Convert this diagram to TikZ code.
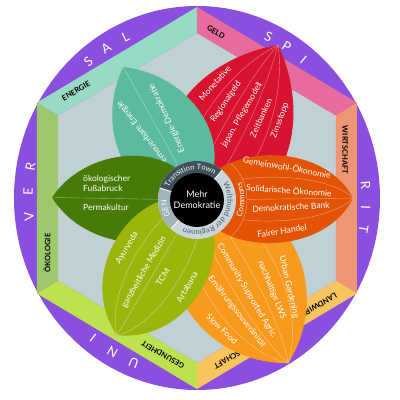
\documentclass[tikz,border=0pt]{standalone}
\usepackage{fontspec}
\setmainfont{Lato}
\usetikzlibrary{decorations.text}
\definecolor{ringpurple}{HTML}{8A4FDF}
\definecolor{hexgrey}{HTML}{C1D0D3}
\definecolor{bandenergie}{HTML}{97DBC5}
\definecolor{bandgeld}{HTML}{E76B9D}
\definecolor{bandwirtschaft}{HTML}{EE9574}
\definecolor{bandland}{HTML}{F7C45E}
\definecolor{bandgesund}{HTML}{BEE24F}
\definecolor{bandoeko}{HTML}{9DC96C}
\definecolor{leafteal}{HTML}{5BBA9F}
\definecolor{leafred}{HTML}{D7132F}
\definecolor{leafgreen}{HTML}{487A08}
\definecolor{leaflime}{HTML}{9BB50D}
\definecolor{leaforange}{HTML}{F89A1E}
\definecolor{leafrust}{HTML}{E35306}
\definecolor{ringdark}{HTML}{3F525A}
\definecolor{ringgen}{HTML}{A1B4BA}
\definecolor{ringlight}{HTML}{C8D6D9}
\definecolor{ringtext}{HTML}{4A5A60}
\tikzset{%
  leaf/.style n args = {5}{insert path={(0,0) .. controls (#2,#3) and (#4,#5)
        .. (#1,0) .. controls (#4,-#5) and (#2,-#3) .. cycle}},
  vein/.style = {draw=white, draw opacity=0.45, line width=0.4pt},
  leaftext/.style = {text=white, inner sep=0pt,
        font=\fontsize{8.5}{10}\selectfont},
  bandlabel/.style = {inner sep=0pt, font=\bfseries\fontsize{7.5}{8}\selectfont},
  ringletter/.style = {text=white, inner sep=0pt,
        font=\fontsize{13}{13}\selectfont}
}

\begin{document}
\begin{tikzpicture}[x=1pt,y=1pt]
    \useasboundingbox (-197,-202) rectangle (203,198);
    % outer ring and hexagon
    \fill[ringpurple] (0,0) ellipse [x radius=183, y radius=192];
    \coordinate (o1) at (0,191);
    \coordinate (o2) at (160,95.5);
    \coordinate (o3) at (160,-95.5);
    \coordinate (o4) at (0,-191);
    \coordinate (o5) at (-160,-95.5);
    \coordinate (o6) at (-160,95.5);
    \coordinate (i1) at (0,165);
    \coordinate (i2) at (139,82.5);
    \coordinate (i3) at (139,-82.5);
    \coordinate (i4) at (0,-165);
    \coordinate (i5) at (-139,-82.5);
    \coordinate (i6) at (-139,82.5);
    \fill[hexgrey] (i1) -- (i2) -- (i3) -- (i4) -- (i5) -- (i6) -- cycle;
    \fill[bandenergie] (o6) -- (o1) -- (i1) -- (i6) -- cycle;
    \fill[bandgeld] (o1) -- (o2) -- (i2) -- (i1) -- cycle;
    \fill[bandwirtschaft] (o2) -- (o3) -- (i3) -- (i2) -- cycle;
    \fill[bandland] (o3) -- (o4) -- (i4) -- (i3) -- cycle;
    \fill[bandgesund] (o4) -- (o5) -- (i5) -- (i4) -- cycle;
    \fill[bandoeko] (o5) -- (o6) -- (i6) -- (i5) -- cycle;
    \node[bandlabel, rotate=30] (energie) at (-121,107) {ENERGIE};
    \node[bandlabel, rotate=-30] (geld) at (19,166) {GELD};
    \node[bandlabel, rotate=-90] (wirtschaft) at (148,48) {WIRTSCHAFT};
    \node[bandlabel, rotate=-150] (landwirt) at (122,-107) {LANDWIRT};
    \node[bandlabel, rotate=-150] (schaft) at (30,-162) {SCHAFT};
    \node[bandlabel, rotate=150] (gesundheit) at (-34,-157) {GESUNDHEIT};
    \node[bandlabel, rotate=90] (oekologie) at (-150,-55) {ÖKOLOGIE};
    \foreach \a/\l [count=\i] in {130/S,122.5/A,115/L,65/S,58/P,51/I,4/R,-3/I,
            -10/T,186/V,178/E,170/R,248/U,240/N,232/I}
        \node[ringletter, rotate=\a-90] (letter\i) at ({169*cos(\a)},{178*sin(\a)}) {\l};

    % leaves
    \begin{scope}[shift={(0,-2)}, rotate=62.4]
        \fill[leafred, leaf={175}{10}{80}{115}{78}];
        \foreach \k in {-0.55,-0.18,0.18,0.55}
            \draw[vein] (175,0) .. controls (115,\k*78) and (10,\k*80) .. (0,0);
    \end{scope}
    \node[leaftext, rotate=48] (monetative) at (18,115) {Monetative};
    \node[leaftext, rotate=56] (regionalgeld) at (29,96) {Regionalgeld};
    \node[leaftext, rotate=60] (pflege) at (45,83) {japan. Pflegemodell};
    \node[leaftext, rotate=65] (zeitbanken) at (64,80) {Zeitbanken};
    \node[leaftext, rotate=70] (zinsstopp) at (83,78) {Zinsstopp};

    \begin{scope}[shift={(0,-2)}, rotate=119]
        \fill[leafteal, leaf={152}{20}{62}{110}{60}];
        \draw[vein] (152,0) -- (0,0);
    \end{scope}
    \node[leaftext, rotate=128] (erneuerbar) at (-55,66) {erneuerbare Energie};
    \node[leaftext, rotate=115] (edemokratie) at (-30,80) {Energie-Demokratie};

    \begin{scope}[shift={(0,-2)}, rotate=179]
        \fill[leafgreen, leaf={145}{15}{60}{110}{55}];
        \draw[vein] (145,0) -- (0,0);
    \end{scope}
    \node[leaftext, align=left, anchor=west] (fussabdruck) at (-114,15)
        {ökologischer\\Fußabruck};
    \node[leaftext, anchor=west] (permakultur) at (-114,-9) {Permakultur};

    \begin{scope}[shift={(0,-2)}, rotate=-60.8]
        \fill[leaforange, leaf={187}{20}{80}{140}{85}];
        \foreach \k in {-0.6,-0.2,0.2,0.6}
            \draw[vein] (187,0) .. controls (140,\k*85) and (20,\k*80) .. (0,0);
    \end{scope}
    \node[leaftext, rotate=-77] (urban) at (92,-89) {Urban Gardening};
    \node[leaftext, rotate=-68] (lws) at (75,-92) {nachhaltige LWS};
    \node[leaftext, rotate=-59] (csa) at (50,-93) {Community Supported Agric.};
    \node[leaftext, rotate=-52] (souveraen) at (40,-114) {Ernährungssouveränität};
    \node[leaftext, rotate=-43] (slowfood) at (25,-131) {Slow Food};

    \begin{scope}[shift={(0,-2)}, rotate=-120.6]
        \fill[leaflime, leaf={157}{15}{62}{125}{70}];
        \foreach \k in {-0.5,0,0.5}
            \draw[vein] (157,0) .. controls (125,\k*70) and (15,\k*62) .. (0,0);
    \end{scope}
    \node[leaftext, rotate=59] (ayurveda) at (-70,-50) {Ayurveda};
    \node[leaftext, rotate=60] (medizin) at (-53,-74) {ganzheitliche Medizin};
    \node[leaftext, rotate=58] (tcm) at (-34,-79) {TCM};
    \node[leaftext, rotate=60] (artabana) at (-10,-89) {Artabana};

    \begin{scope}[shift={(0,-2)}, rotate=0.7]
        \fill[leafrust, leaf={156}{10}{55}{125}{62}];
        \foreach \k in {-0.5,0,0.5}
            \draw[vein] (156,0) .. controls (125,\k*62) and (10,\k*55) .. (0,0);
        \begin{scope}
            \clip[leaf={156}{10}{55}{125}{62}];
            \fill[leafrust] (0,0) circle (50);
            \draw[vein] (0,0) circle (50);
        \end{scope}
    \end{scope}
    \node[leaftext, rotate=-10] (gemeinwohl) at (90,31) {Gemeinwohl-Ökonomie};
    \node[leaftext, rotate=-4] (solidarisch) at (92,8) {Solidarische Ökonomie};
    \node[leaftext, rotate=3] (bank) at (94,-9) {Demokratische Bank};
    \node[leaftext, rotate=9] (handel) at (85,-33) {Fairer Handel};
    \path[decorate, decoration={text along path, text align=center, text color=white,
        text={|\fontsize{8}{8}\selectfont|Commons}}] (0,-2) ++(-40:47.5) arc (-40:40:47.5);

    % centre
    \coordinate (c) at (0,-2);
    \fill[ringlight] (c) circle (39);
    \fill[ringdark] (c) -- ++(50:39) arc (50:162:39) -- cycle;
    \fill[ringgen] (c) -- ++(162:39) arc (162:228:39) -- cycle;
    \foreach \a in {50,162,228}
        \draw[white, line width=0.8pt] (c) -- ++(\a:39);
    \path[decorate, decoration={text along path, text align=center, text color=white,
        text={|\fontsize{7.5}{8}\selectfont|Transition Town}}] (c) ++(160:30.5) arc (160:52:30.5);
    \path[decorate, decoration={text along path, text align=center, text color=ringtext,
        text={|\fontsize{7.5}{8}\selectfont|Weltbund der Regionen}}] (c) ++(46:30.5) arc (46:-130:30.5);
    \path[decorate, decoration={text along path, text align=center, text color=white,
        text={|\fontsize{7.5}{8}\selectfont|GEN}}] (c) ++(218:30.5) arc (218:172:30.5);
    \fill[black] (c) circle (27);
    \node[text=white, align=center, inner sep=0pt,
        font=\fontsize{9}{11}\selectfont] (mehr) at (c) {Mehr\\Demokratie};
\end{tikzpicture}
\end{document}
